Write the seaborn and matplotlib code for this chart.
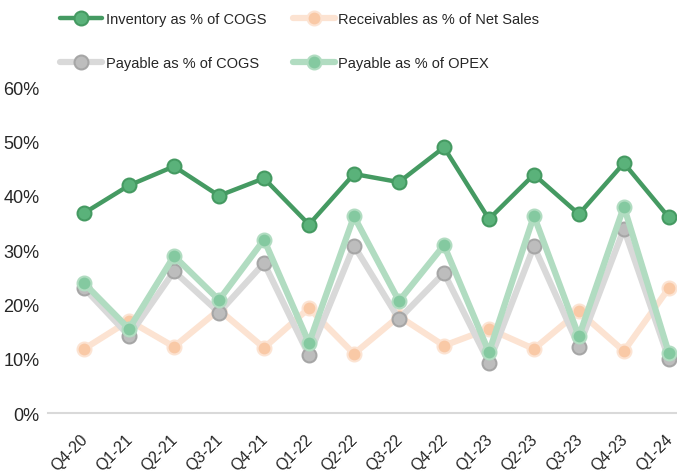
import pandas as pd
import matplotlib.pyplot as plt
import matplotlib.transforms as mtransforms
import seaborn as sns
from matplotlib.ticker import PercentFormatter

quarters = ['Q4-20', 'Q1-21', 'Q2-21', 'Q3-21', 'Q4-21', 'Q1-22', 'Q2-22',
            'Q3-22', 'Q4-22', 'Q1-23', 'Q2-23', 'Q3-23', 'Q4-23', 'Q1-24']

inventory_cogs = [36.8, 41.9, 45.4, 40.0, 43.2, 34.7, 44.0, 42.5, 48.9, 35.7, 43.9, 36.6, 46.0, 36.0]
receivables_sales = [11.8, 17.0, 12.2, 19.0, 12.0, 19.3, 10.9, 17.8, 12.4, 15.5, 11.8, 18.7, 11.4, 23.0]
payable_cogs = [23.0, 14.2, 26.1, 18.5, 27.6, 10.6, 30.8, 17.3, 25.8, 9.3, 30.7, 12.2, 33.9, 9.9]
payable_opex = [23.9, 15.5, 28.9, 20.8, 31.9, 12.9, 36.2, 20.6, 30.9, 11.2, 36.3, 14.1, 38.0, 11.0]

series_names = ['Inventory as % of COGS', 'Receivables as % of Net Sales',
                'Payable as % of COGS', 'Payable as % of OPEX']

df = pd.DataFrame({'Quarter': quarters,
                   series_names[0]: inventory_cogs,
                   series_names[1]: receivables_sales,
                   series_names[2]: payable_cogs,
                   series_names[3]: payable_opex})

sns.set_style('white')
plt.rcParams['font.family'] = ['Liberation Sans', 'DejaVu Sans']

# line colour, marker face, marker edge, line width, zorder
styles = {
    series_names[0]: ('#459a62', '#5ab27a', '#459a62', 3.2, 5),
    series_names[1]: ('#fce3d2', '#f9c9a6', '#fce3d2', 4.5, 2),
    series_names[2]: ('#d9d9d9', '#bdbdbd', '#a6a6a6', 4.5, 3),
    series_names[3]: ('#b1dcc1', '#84c9a0', '#b1dcc1', 4.5, 4),
}

fig = plt.figure(figsize=(6.77, 4.77), dpi=100)
ax = fig.add_axes([0.071, 0.132, 0.929, 0.6834])

handles = {}
for name in series_names:
    lc, mf, me, lw, z = styles[name]
    sns.lineplot(data=df, x='Quarter', y=name, ax=ax, color=lc, lw=lw,
                 marker='o', markersize=10, markerfacecolor=mf,
                 markeredgecolor=me, markeredgewidth=1.5, zorder=z)
    handles[name] = ax.lines[-1]

ax.set_ylim(0, 60)
ax.set_xlim(-0.8, 13.18)
ax.yaxis.set_major_formatter(PercentFormatter(decimals=0))
ax.set_yticks(range(0, 61, 10))
ax.set_xlabel('')
ax.set_ylabel('')
ax.tick_params(axis='y', labelsize=13, length=0, pad=6)
ax.tick_params(axis='x', labelsize=11.5, length=0, pad=13)
shift = mtransforms.ScaledTranslation(-4 / 100, 0, fig.dpi_scale_trans)
for lab in ax.get_xticklabels():
    lab.set_rotation(45)
    lab.set_ha('right')
    lab.set_rotation_mode('anchor')
    lab.set_transform(lab.get_transform() + shift)
for s in ['top', 'right', 'left']:
    ax.spines[s].set_visible(False)
ax.spines['bottom'].set_color('#d9d9d9')
ax.spines['bottom'].set_linewidth(1.5)

# matplotlib fills legend columns first, so reorder to read row-wise
order = [series_names[0], series_names[2], series_names[1], series_names[3]]
fig.legend([handles[n] for n in order], order, loc='upper left',
           bbox_to_anchor=(0.069, 1.001), ncol=2, frameon=False, fontsize=10.5,
           handlelength=2.9, handletextpad=0.25, columnspacing=1.8,
           labelspacing=2.1)

fig.savefig('out.png', dpi=100)
